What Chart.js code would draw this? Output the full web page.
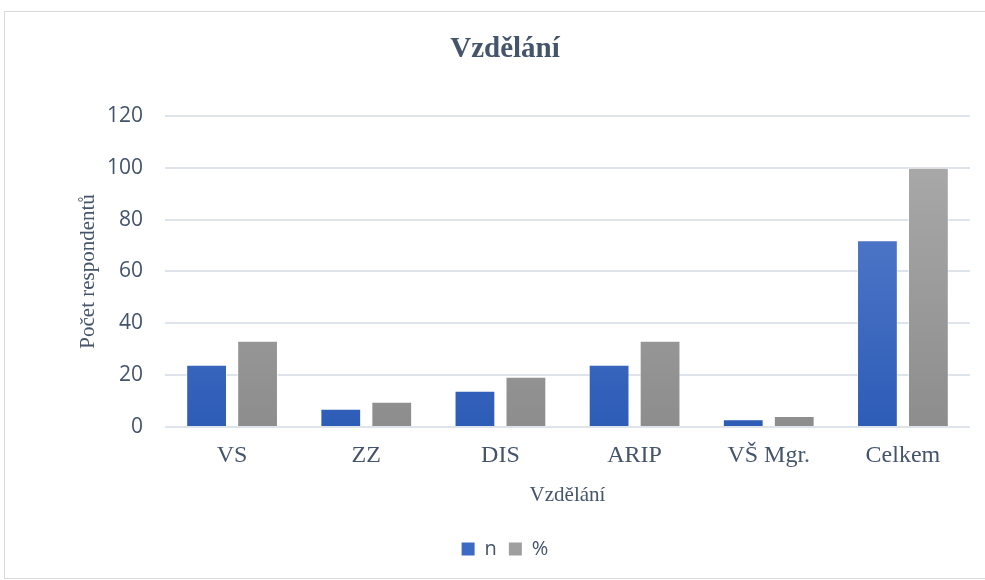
<!DOCTYPE html>
<html>
<head>
    <title>Vzdělání</title>
    <script src="https://cdn.jsdelivr.net/npm/chart.js"></script>
    <style>
        html, body { margin: 0; padding: 0; background: #ffffff; overflow: hidden; }
        .frame {
            position: absolute;
            left: 4px;
            top: 11px;
            width: 1010px;
            height: 566px;
            border: 1px solid #d9d9d9;
        }
        .wrap { position: absolute; left: 0; top: 0; width: 985px; height: 580px; }
    </style>
</head>
<body>
    <div class="frame"></div>
    <div class="wrap">
        <canvas id="eduChart" width="985" height="580"></canvas>
    </div>

    <script>
        const categories = ['VS', 'ZZ', 'DIS', 'ARIP', 'VŠ Mgr.', 'Celkem'];
        const countValues = [24, 7, 14, 24, 3, 72];
        const percentValues = [33.3, 9.7, 19.4, 33.3, 4.2, 100];
        const yTicks = [0, 20, 40, 60, 80, 100, 120];

        const textColor = '#44546a';
        const gridColor = '#dfe3ea';

        function barFill(top, bottom, plain) {
            return (context) => {
                const chart = context.chart;
                if (!chart.chartArea) return plain;
                const el = context.element;
                const y0 = el && el.y !== undefined ? el.y : chart.chartArea.top;
                const y1 = el && el.base !== undefined ? el.base : chart.chartArea.bottom;
                if (!isFinite(y0) || !isFinite(y1) || y0 === y1) return plain;
                const g = chart.ctx.createLinearGradient(0, y0, 0, y1);
                g.addColorStop(0, top);
                g.addColorStop(1, bottom);
                return g;
            };
        }

        const ctx = document.getElementById('eduChart').getContext('2d');

        new Chart(ctx, {
            type: 'bar',
            data: {
                labels: categories,
                datasets: [
                    {
                        label: 'n',
                        data: countValues,
                        backgroundColor: barFill('#5f84cf', '#2d5cb7', '#4472c4'),
                        borderColor: 'rgba(255,255,255,0.6)',
                        borderWidth: 1,
                        categoryPercentage: 0.76,
                        barPercentage: 0.8,
                    },
                    {
                        label: '%',
                        data: percentValues,
                        backgroundColor: barFill('#adadad', '#8d8d8d', '#a5a5a5'),
                        borderColor: 'rgba(255,255,255,0.6)',
                        borderWidth: 1,
                        categoryPercentage: 0.76,
                        barPercentage: 0.8,
                    },
                ],
            },
            options: {
                responsive: false,
                animation: false,
                layout: {
                    padding: { left: 40, right: 15, top: 20, bottom: 11 },
                },
                plugins: {
                    title: {
                        display: true,
                        text: 'Vzdělání',
                        color: textColor,
                        font: { family: 'Liberation Serif', size: 29, weight: 'bold' },
                        padding: { top: 12, bottom: 49 },
                    },
                    legend: {
                        position: 'bottom',
                        labels: {
                            color: textColor,
                            font: { family: 'Open Sans', size: 20 },
                            boxWidth: 13,
                            boxHeight: 13,
                            padding: 12,
                            generateLabels: (chart) => [
                                { text: 'n', fillStyle: '#3d6bc4', strokeStyle: '#3d6bc4', lineWidth: 0, fontColor: textColor, datasetIndex: 0 },
                                { text: '%', fillStyle: '#9f9f9f', strokeStyle: '#9f9f9f', lineWidth: 0, fontColor: textColor, datasetIndex: 1 },
                            ],
                        },
                    },
                    tooltip: { enabled: false },
                },
                scales: {
                    x: {
                        grid: { display: false, drawTicks: false },
                        border: { display: false },
                        ticks: {
                            color: textColor,
                            font: { family: 'Liberation Serif', size: 24, lineHeight: 1.0 },
                            padding: 17,
                        },
                        title: {
                            display: true,
                            text: 'Vzdělání',
                            color: textColor,
                            font: { family: 'Liberation Serif', size: 21, lineHeight: 1.0 },
                            padding: { top: 0, bottom: 21 },
                        },
                    },
                    y: {
                        min: 0,
                        max: 120,
                        afterBuildTicks: (axis) => {
                            axis.ticks = yTicks.map((v) => ({ value: v }));
                        },
                        afterFit: (axis) => {
                            axis.width = 125;
                        },
                        grid: { color: gridColor, lineWidth: 2, drawTicks: false },
                        border: { display: false },
                        ticks: {
                            color: textColor,
                            font: { family: 'Open Sans', size: 21 },
                            padding: 22,
                        },
                        title: {
                            display: true,
                            text: 'Počet respondentů',
                            color: textColor,
                            font: { family: 'Liberation Serif', size: 21 },
                            padding: { top: 36, bottom: 6 },
                        },
                    },
                },
            },
        });
    </script>
</body>
</html>
